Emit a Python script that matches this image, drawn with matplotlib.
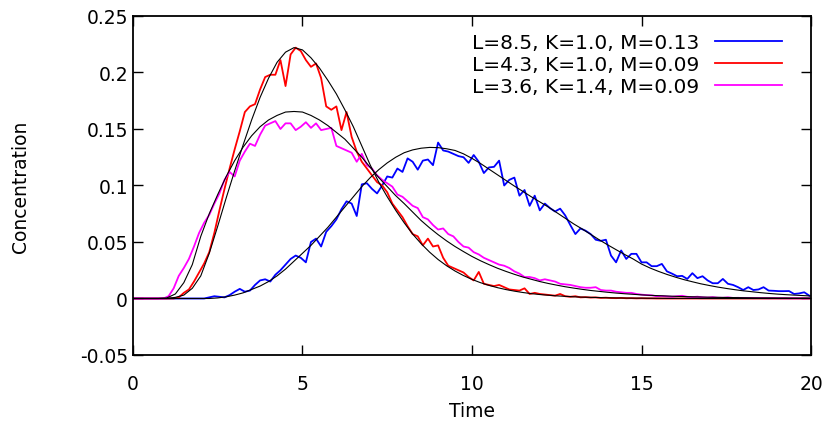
import numpy as np
import matplotlib
matplotlib.use("Agg")
import matplotlib.pyplot as plt
from matplotlib.ticker import FuncFormatter

# measured concentrations, sampled every 0.15 time units starting at t=0
conc_blue = [
    0, 0, 0, 0, 0, 0, 0, 0, 0, 0,
    0, 0, 0, 0, 0, 0.001, 0.002, 0.0015, 0.001, 0.003,
    0.006, 0.0085, 0.006, 0.007, 0.012, 0.016, 0.017, 0.015, 0.021, 0.025,
    0.030, 0.035, 0.038, 0.036, 0.032, 0.050, 0.053, 0.046, 0.059, 0.064,
    0.070, 0.079, 0.086, 0.084, 0.073, 0.101, 0.102, 0.097, 0.093, 0.100,
    0.108, 0.107, 0.115, 0.112, 0.124, 0.121, 0.114, 0.122, 0.123, 0.118,
    0.138, 0.131, 0.130, 0.128, 0.126, 0.125, 0.120, 0.127, 0.121, 0.111,
    0.116, 0.1165, 0.122, 0.100, 0.105, 0.107, 0.091, 0.096, 0.082, 0.091,
    0.078, 0.084, 0.080, 0.077, 0.0795, 0.0735, 0.065, 0.057, 0.062, 0.060,
    0.057, 0.052, 0.051, 0.052, 0.038, 0.032, 0.0425, 0.035, 0.0395, 0.0395,
    0.032, 0.032, 0.0286, 0.0286, 0.0306, 0.024, 0.022, 0.0197, 0.020, 0.0173,
    0.0224, 0.018, 0.0197, 0.016, 0.0135, 0.0135, 0.0173, 0.013, 0.012, 0.010,
    0.0075, 0.010, 0.0075, 0.008, 0.010, 0.007, 0.0068, 0.0065, 0.0065, 0.0066,
    0.004, 0.0045, 0.0055, 0.0025,
]
conc_red = [
    0, 0, 0, 0, 0, 0, 0, 0, 0, 0.001,
    0.005, 0.008, 0.015, 0.023, 0.031, 0.041, 0.058, 0.078, 0.097, 0.115,
    0.132, 0.148, 0.165, 0.170, 0.172, 0.185, 0.196, 0.198, 0.198, 0.211,
    0.188, 0.216, 0.222, 0.219, 0.211, 0.205, 0.208, 0.195, 0.170, 0.167,
    0.170, 0.149, 0.165, 0.143, 0.130, 0.121, 0.115, 0.109, 0.103, 0.100,
    0.094, 0.084, 0.078, 0.072, 0.064, 0.057, 0.055, 0.047, 0.053, 0.046,
    0.047, 0.036, 0.029, 0.027, 0.025, 0.023, 0.019, 0.016, 0.0235, 0.013,
    0.012, 0.011, 0.012, 0.010, 0.008, 0.0075, 0.007, 0.009, 0.004, 0.005,
    0.004, 0.0035, 0.003, 0.0025, 0.004, 0.002, 0.0015, 0.002, 0.001, 0.0012,
    0.0008, 0.001, 0.0005, 0.0007, 0.0004, 0.0003, 0.0005, 0.0002, 0.0003, 0.0001,
    0.0002, 0.0001, 0.0001, 0, 0, 0, 0, 0, 0, 0,
    0, 0, 0, 0, 0, 0, 0, 0, 0, 0,
    0, 0, 0, 0, 0, 0, 0, 0, 0, 0,
    0, 0, 0, 0,
]
conc_magenta = [
    0, 0, 0, 0, 0, 0, 0, 0.002, 0.009, 0.020,
    0.027, 0.035, 0.046, 0.058, 0.067, 0.074, 0.084, 0.093, 0.105, 0.112,
    0.108, 0.122, 0.130, 0.137, 0.135, 0.145, 0.153, 0.155, 0.157, 0.150,
    0.155, 0.155, 0.149, 0.152, 0.156, 0.151, 0.155, 0.149, 0.150, 0.151,
    0.135, 0.133, 0.131, 0.129, 0.121, 0.128, 0.118, 0.115, 0.109, 0.105,
    0.102, 0.099, 0.092, 0.090, 0.086, 0.082, 0.080, 0.072, 0.070, 0.065,
    0.061, 0.062, 0.057, 0.055, 0.050, 0.046, 0.045, 0.041, 0.039, 0.036,
    0.034, 0.032, 0.030, 0.029, 0.027, 0.024, 0.022, 0.019, 0.019, 0.018,
    0.016, 0.017, 0.016, 0.015, 0.013, 0.0125, 0.012, 0.011, 0.010, 0.0095,
    0.0095, 0.010, 0.0075, 0.007, 0.007, 0.006, 0.0055, 0.005, 0.005, 0.004,
    0.0034, 0.003, 0.0028, 0.002, 0.0022, 0.0018, 0.0015, 0.002, 0.0024, 0.0015,
    0.0012, 0.0016, 0.001, 0.0008, 0.0012, 0.0007, 0.0006, 0.001, 0.0005, 0.0006,
    0.0004, 0.0005, 0.0003, 0.0004, 0.0003, 0.0002, 0.0003, 0.0002, 0.0002, 0.0001,
    0.0002, 0.0001, 0.0001, 0.0001,
]

# fitted model curves, sampled every 0.25 time units from 0 to 20
fit_blue = [
    0, 0, 0, 0, 0, 0, 0, 0, 0, 0,
    0.0005, 0.0015, 0.003, 0.005, 0.008, 0.011, 0.015, 0.020, 0.026, 0.033,
    0.040, 0.047, 0.055, 0.063, 0.072, 0.081, 0.090, 0.099, 0.107, 0.114,
    0.120, 0.125, 0.129, 0.1315, 0.133, 0.1337, 0.1335, 0.1325, 0.131, 0.128,
    0.124, 0.1195, 0.1145, 0.1095, 0.1045, 0.0995, 0.0948, 0.0900, 0.0855, 0.081,
    0.076, 0.071, 0.066, 0.0615, 0.0568, 0.052, 0.0475, 0.0432, 0.039, 0.035,
    0.0305, 0.027, 0.024, 0.0213, 0.0189, 0.0167, 0.0148, 0.013, 0.0115, 0.0101,
    0.0089, 0.0078, 0.0068, 0.006, 0.0052, 0.0045, 0.0039, 0.0034, 0.003, 0.0026,
    0.0022,
]
fit_red = [
    0, 0, 0, 0, 0, 0.001, 0.003, 0.009, 0.020, 0.040,
    0.064, 0.089, 0.113, 0.136, 0.158, 0.178, 0.195, 0.209, 0.218, 0.222,
    0.220, 0.213, 0.204, 0.193, 0.181, 0.167, 0.152, 0.135, 0.118, 0.103,
    0.090, 0.078, 0.067, 0.057, 0.0485, 0.041, 0.0345, 0.029, 0.0243, 0.0203,
    0.0169, 0.014, 0.0116, 0.0096, 0.0079, 0.0065, 0.0053, 0.0043, 0.0035, 0.0029,
    0.0023, 0.0019, 0.0015, 0.0012, 0.001, 0.0008, 0.0006, 0.0005, 0.0004, 0.0003,
    0.0003, 0.0002, 0.0002, 0.0001, 0.0001, 0.0001, 0.0001, 0, 0, 0,
    0, 0, 0, 0, 0, 0, 0, 0, 0, 0,
    0,
]
fit_magenta = [
    0, 0, 0, 0, 0.0005, 0.004, 0.014, 0.030, 0.055, 0.075,
    0.092, 0.108, 0.122, 0.134, 0.144, 0.152, 0.158, 0.162, 0.165, 0.1655,
    0.165, 0.162, 0.158, 0.153, 0.147, 0.141, 0.133, 0.125, 0.116, 0.107,
    0.099, 0.091, 0.084, 0.0765, 0.069, 0.0625, 0.0565, 0.051, 0.046, 0.0415,
    0.0372, 0.0334, 0.030, 0.0268, 0.024, 0.0214, 0.019, 0.017, 0.015, 0.0133,
    0.0118, 0.0104, 0.0092, 0.0081, 0.0071, 0.0063, 0.0055, 0.0048, 0.0042, 0.0037,
    0.0032, 0.0028, 0.0025, 0.0022, 0.0019, 0.0017, 0.0015, 0.0013, 0.0011, 0.001,
    0.0009, 0.0008, 0.0007, 0.0006, 0.0005, 0.0005, 0.0004, 0.0004, 0.0003, 0.0003,
    0.0003,
]

labels = ["L=8.5, K=1.0, M=0.13", "L=4.3, K=1.0, M=0.09", "L=3.6, K=1.4, M=0.09"]
colors = ["#0000ff", "#ff0000", "#ff00ff"]

t_data = 0.15 * np.arange(len(conc_blue))
t_fit = 0.25 * np.arange(len(fit_blue))

plt.rcParams["font.family"] = ["DejaVu Sans"]
plt.rcParams["font.size"] = 13.5

fig = plt.figure(figsize=(8.29, 4.27), dpi=100)
ax = fig.add_axes([0.1604, 0.1663, 0.8179, 0.7939])

for conc, fit, lab, col in zip([conc_blue, conc_red, conc_magenta],
                               [fit_blue, fit_red, fit_magenta], labels, colors):
    ax.plot(t_data, conc, color=col, lw=1.3, label=lab, zorder=2)
    ax.plot(t_fit, fit, color="black", lw=0.8, zorder=3)

ax.set_xlim(0, 20)
ax.set_ylim(-0.05, 0.25)
ax.set_xticks([0, 5, 10, 15, 20])
ax.set_yticks([-0.05, 0, 0.05, 0.1, 0.15, 0.2, 0.25])
ax.yaxis.set_major_formatter(FuncFormatter(lambda v, p: "%g" % round(v, 2)))
ax.tick_params(direction="in", length=7, width=1, top=True, right=True)
ax.tick_params(axis="x", pad=14)
ax.tick_params(axis="y", pad=3.5)
for s in ax.spines.values():
    s.set_linewidth(1.3)

ax.set_xlabel("Time")
ax.set_ylabel("Concentration")
ax.xaxis.set_label_coords(0.5, -0.135)
ax.yaxis.set_label_coords(-0.152, 0.5)

ax.legend(loc="upper right", bbox_to_anchor=(0.957, 0.95), frameon=False,
          markerfirst=False, handlelength=3.3, handletextpad=0.8,
          labelspacing=0.15, borderpad=0, borderaxespad=0,
          prop={"size": 14.5})

fig.savefig("out.png", dpi=100)
